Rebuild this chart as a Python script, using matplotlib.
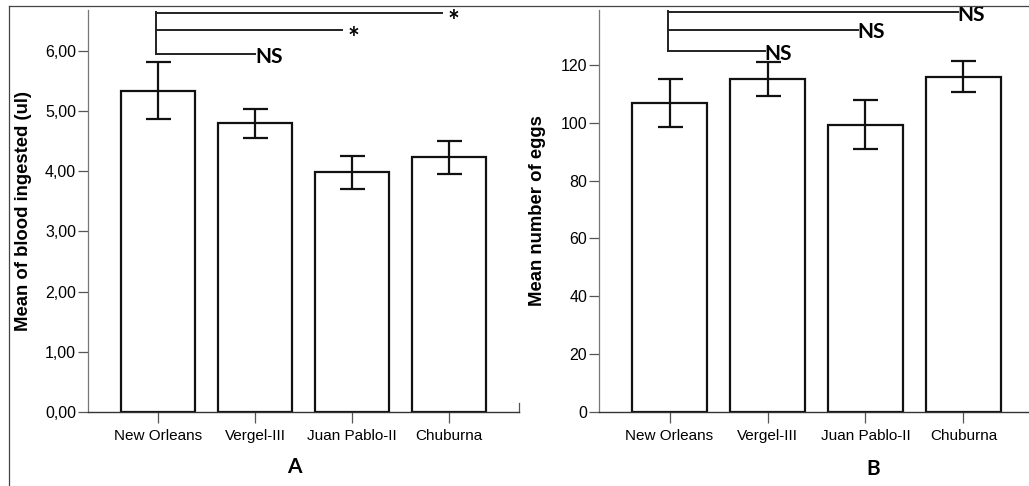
import matplotlib.pyplot as plt
from matplotlib.lines import Line2D

# site names shared by both panels
sites = ["New Orleans", "Vergel-III", "Juan Pablo-II", "Chuburna"]

# panel A: blood ingested (ul)
blood_mean = [5.34, 4.80, 3.98, 4.24]
blood_low = [4.87, 4.56, 3.70, 3.96]
blood_high = [5.81, 5.03, 4.25, 4.51]

# panel B: eggs
eggs_mean = [107.0, 115.1, 99.3, 116.0]
eggs_low = [98.6, 109.2, 90.8, 110.7]
eggs_high = [115.2, 120.9, 107.8, 121.3]

# significance brackets (comparison against New Orleans)
blood_sig_end = [1.0, 1.9, 2.93]
blood_sig_y = [5.95, 6.35, 6.63]
blood_sig_lab = ["NS", "*", "*"]

eggs_sig_end = [0.97, 1.92, 2.94]
eggs_sig_y = [124.9, 132.2, 138.4]
eggs_sig_lab = ["NS", "NS", "NS"]

W, H = 1029, 486
fig = plt.figure(figsize=(W / 100, H / 100), dpi=100)
plt.rcParams['font.family'] = ['Liberation Sans', 'DejaVu Sans']

# outer frame lines of the original figure
fig.add_artist(Line2D([9 / W, 1], [1 - 6 / H, 1 - 6 / H], color='#444444', lw=0.9))
fig.add_artist(Line2D([9 / W, 9 / W], [0, 1 - 6 / H], color='#444444', lw=0.9))


def draw_panel(ax, means, lows, highs, ymax, ticks, fmt, ylabel, sig_end, sig_y, sig_lab):
    x = list(range(len(sites)))
    errs = [[m - l for m, l in zip(means, lows)], [h - m for m, h in zip(means, highs)]]
    ax.bar(x, means, width=0.76, color='white', edgecolor='#111111', linewidth=1.6, zorder=2)
    ax.errorbar(x, means, yerr=errs, fmt='none', ecolor='#111111', elinewidth=1.6,
                capsize=9, capthick=1.6, zorder=3)
    ax.set_xlim(-0.72, 3.72)
    ax.set_ylim(0, ymax)
    ax.set_yticks(ticks)
    ax.set_yticklabels([fmt(t) for t in ticks])
    ax.set_xticks(x)
    ax.set_xticklabels(sites)
    for s in ['top', 'right']:
        ax.spines[s].set_visible(False)
    ax.spines['left'].set_color('#777777')
    ax.spines['left'].set_linewidth(0.9)
    ax.spines['bottom'].set_color('#333333')
    ax.spines['bottom'].set_linewidth(1.0)
    ax.tick_params(axis='y', length=7, width=0.9, color='#555555', pad=1.5, labelsize=11.5)
    ax.tick_params(axis='x', length=8, width=0.9, color='#555555', pad=4.5, labelsize=11)
    ax.set_ylabel(ylabel, fontsize=13.3, fontweight='bold')
    ax.patch.set_alpha(0)

    # brackets
    x0 = -0.02
    ax.plot([x0, x0], [max(sig_y) + 0.003 * ymax, min(sig_y)], color='#222222', lw=1.4, clip_on=False)
    for xe, ye, lab in zip(sig_end, sig_y, sig_lab):
        ax.plot([x0, xe], [ye, ye], color='#222222', lw=1.4, clip_on=False)
        if lab == '*':
            ax.annotate(lab, xy=(xe, ye), xytext=(4, -6.5), textcoords='offset points',
                        ha='left', va='center', fontsize=20, fontweight='bold',
                        family=['Lato', 'DejaVu Sans'], annotation_clip=False)
        else:
            ax.annotate(lab, xy=(xe, ye), xytext=(0, -2), textcoords='offset points',
                        ha='left', va='center', fontsize=15, fontweight='bold',
                        family=['Lato', 'DejaVu Sans'], annotation_clip=False)


ax1 = fig.add_axes([88 / W, 74 / H, 431 / W, 402 / H])
draw_panel(ax1, blood_mean, blood_low, blood_high, 6.68, [0, 1, 2, 3, 4, 5, 6],
           lambda t: f"{t:.2f}".replace('.', ','), "Mean of blood ingested (ul)",
           blood_sig_end, blood_sig_y, blood_sig_lab)
ax1.yaxis.set_label_coords(-0.13, 0.5)
ax1.axvline(3.72, ymin=0, ymax=0.022, color='#555555', lw=0.9, clip_on=False)

ax2 = fig.add_axes([599 / W, 74 / H, 435 / W, 402 / H])
draw_panel(ax2, eggs_mean, eggs_low, eggs_high, 139, [0, 20, 40, 60, 80, 100, 120],
           lambda t: f"{t:d}", "Mean number of eggs",
           eggs_sig_end, eggs_sig_y, eggs_sig_lab)
ax2.yaxis.set_label_coords(-0.122, 0.5)

fig.text(294 / W, 1 - 467 / H, "A", ha='center', va='center', fontsize=15, fontweight='bold',
         family=['Lato', 'DejaVu Sans'])
fig.text(873 / W, 1 - 469 / H, "B", ha='center', va='center', fontsize=15, fontweight='bold',
         family=['Lato', 'DejaVu Sans'])

fig.savefig("out.png", dpi=100)
